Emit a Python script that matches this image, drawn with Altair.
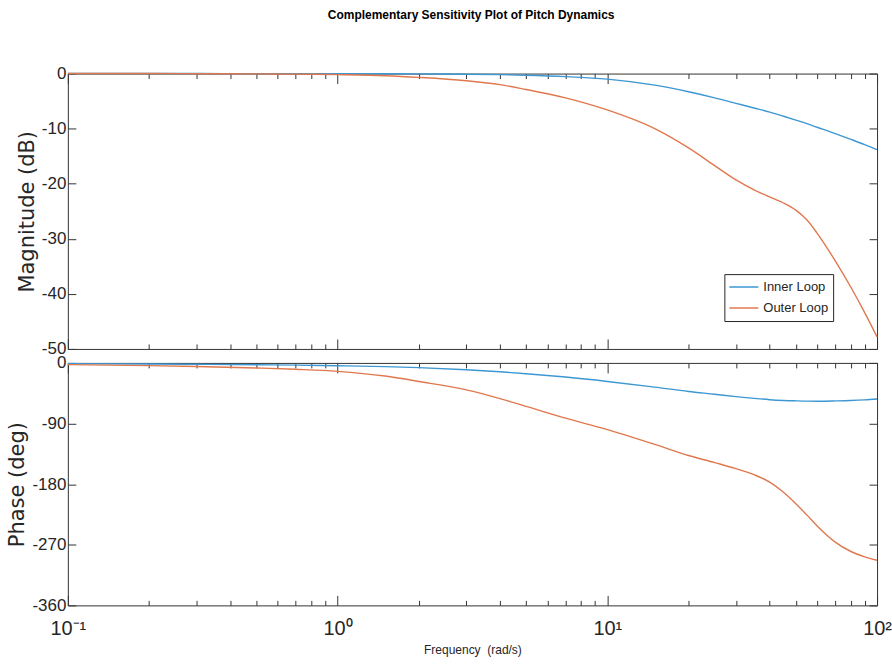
import altair as alt
import pandas as pd

title_text = "Complementary Sensitivity Plot of Pitch Dynamics"
series_names = ["Inner Loop", "Outer Loop"]
series_colors = ["#3d97d3", "#e0784e"]

freq = [0.1, 0.2, 0.3, 0.5, 0.7, 1, 1.5, 2, 3, 4, 5, 7, 10, 15, 20, 25, 30,
        35, 40, 45, 50, 55, 60, 70, 80, 90, 100]
inner_mag = [0, 0, 0, -0.01, -0.01, -0.02, -0.04, -0.06, -0.12, -0.2, -0.3,
             -0.55, -1.0, -2.1, -3.3, -4.4, -5.4, -6.25, -7.0, -7.75, -8.45,
             -9.1, -9.75, -10.9, -11.95, -12.9, -13.8]
outer_mag = [0, 0, -0.02, -0.05, -0.1, -0.2, -0.4, -0.7, -1.3, -2.0, -2.9,
             -4.4, -6.6, -10.0, -13.5, -16.7, -19.3, -21.1, -22.4, -23.5,
             -24.8, -26.6, -29.0, -34.0, -38.8, -43.4, -47.8]
inner_phase = [-1.0, -1.5, -2.0, -2.7, -3.3, -4.2, -5.5, -7.0, -10.2, -13.2,
               -16.0, -21.0, -27.5, -36.0, -42.4, -46.5, -50.0, -52.6, -54.6,
               -55.7, -56.3, -56.7, -56.8, -56.4, -55.8, -54.8, -53.5]
outer_phase = [-2.5, -4.0, -5.3, -7.5, -9.5, -12.5, -19.5, -27.5, -40.0, -53.0,
               -64.5, -82.0, -99.0, -121.0, -137.5, -148.0, -157.0, -166.0,
               -177.0, -192.0, -209.0, -226.0, -242.0, -266.0, -280.0, -288.0,
               -293.0]

mag_ticks = [-50, -40, -30, -20, -10, 0]
phase_ticks = [-360, -270, -180, -90, 0]
major_x = [0.1, 1, 10, 100]
minor_x = [0.2, 0.3, 0.4, 0.5, 0.6, 0.7, 0.8, 0.9,
           2, 3, 4, 5, 6, 7, 8, 9,
           20, 30, 40, 50, 60, 70, 80, 90]

x_label_expr = ("datum.value < 0.5 ? '10\u207b\u00b9' : datum.value < 5 ? '10\u2070' : "
                "datum.value < 50 ? '10\u00b9' : '10\u00b2'")

FONT = "Liberation Sans, Arial, sans-serif"
WIDE = "DejaVu Sans"
AX = "#333333"
TXT = "#262626"


def long_df(a, b):
    rows = []
    for f, v in zip(freq, a):
        rows.append({"freq": f, "value": v, "series": series_names[0]})
    for f, v in zip(freq, b):
        rows.append({"freq": f, "value": v, "series": series_names[1]})
    return pd.DataFrame(rows)


def x_axis(orient, major, show_labels):
    kw = dict(orient=orient, domain=False, grid=False, tickColor=AX, tickWidth=1,
              labelFlush=False, labelOverlap=False)
    if major:
        kw.update(values=major_x, tickSize=10, offset=-10)
    else:
        kw.update(values=minor_x, tickSize=5, offset=-5)
    if show_labels:
        kw.update(labels=True, labelExpr=x_label_expr, labelFont=FONT,
                  labelFontSize=20, labelColor=TXT, labelPadding=13,
                  title="Frequency\u00a0\u00a0(rad/s)", titleFont=FONT, titleFontSize=12,
                  titleFontWeight="normal", titleColor=TXT, titlePadding=6)
    else:
        kw.update(labels=False, title=None)
    return alt.Axis(**kw)


def y_axis(orient, values, title):
    kw = dict(orient=orient, values=values, domain=False, grid=False, tickColor=AX,
              tickWidth=1, tickSize=8, offset=-8, labelFlush=False, labelOverlap=False)
    if title:
        kw.update(labels=True, labelExpr="'' + datum.value", labelFont=FONT,
                  labelFontSize=17, labelColor=TXT, labelPadding=2,
                  title=title, titleFont=WIDE, titleFontSize=21,
                  titleFontWeight="normal", titleColor=TXT, titlePadding=4)
    else:
        kw.update(labels=False, title=None)
    return alt.Axis(**kw)


def panel(df, ydomain, yvalues, ytitle, height, show_x_labels, legend):
    xscale = alt.Scale(type="log", domain=[0.1, 100], nice=False)
    yscale = alt.Scale(domain=ydomain, nice=False, zero=False)
    cscale = alt.Scale(domain=series_names, range=series_colors)
    base = alt.Chart(df)
    l1 = base.mark_line(strokeWidth=1.4, interpolate="monotone").encode(
        x=alt.X("freq:Q", scale=xscale, axis=x_axis("bottom", True, show_x_labels)),
        y=alt.Y("value:Q", scale=yscale, axis=y_axis("left", yvalues, ytitle)),
        color=alt.Color("series:N", scale=cscale, legend=legend),
    )
    l2 = base.mark_line(strokeOpacity=0).encode(
        x=alt.X("freq:Q", scale=xscale, axis=x_axis("bottom", False, False)),
        y=alt.Y("value:Q", scale=yscale, axis=y_axis("right", yvalues, None)),
        detail="series:N",
    )
    l3 = base.mark_line(strokeOpacity=0).encode(
        x=alt.X("freq:Q", scale=xscale, axis=x_axis("top", True, False)),
        y=alt.Y("value:Q", scale=yscale, axis=None),
        detail="series:N",
    )
    l4 = base.mark_line(strokeOpacity=0).encode(
        x=alt.X("freq:Q", scale=xscale, axis=x_axis("top", False, False)),
        y=alt.Y("value:Q", scale=yscale, axis=None),
        detail="series:N",
    )
    return alt.layer(l1, l2, l3, l4).resolve_axis(
        x="independent", y="independent"
    ).properties(width=811, height=height)


legend = alt.Legend(orient="none", legendX=658, legendY=201, title=None,
                    strokeColor=TXT, fillColor="white", padding=4,
                    symbolType="stroke", symbolSize=841, symbolStrokeWidth=1.5,
                    labelFont=FONT, labelFontSize=13, labelColor=TXT,
                    rowPadding=3, labelOffset=4, clipHeight=18)

top = panel(long_df(inner_mag, outer_mag), [-50, 0], mag_ticks, "Magnitude (dB)",
            276, False, legend)
bottom = panel(long_df(inner_phase, outer_phase), [-360, 0], phase_ticks,
               "Phase (deg)", 243, True, None)

chart = alt.vconcat(top, bottom, spacing=14, bounds="flush").resolve_legend(
    color="independent"
).properties(
    title=alt.TitleParams(title_text, font=FONT, fontSize=12, fontWeight="bold",
                          color="#000000", anchor="middle", offset=42, dx=22),
    padding={"left": 6, "top": 8, "right": 0, "bottom": 0},
    background="white",
).configure_view(stroke=AX, strokeWidth=1)

chart.save("out.html", embed_options={"renderer": "svg", "actions": False})
